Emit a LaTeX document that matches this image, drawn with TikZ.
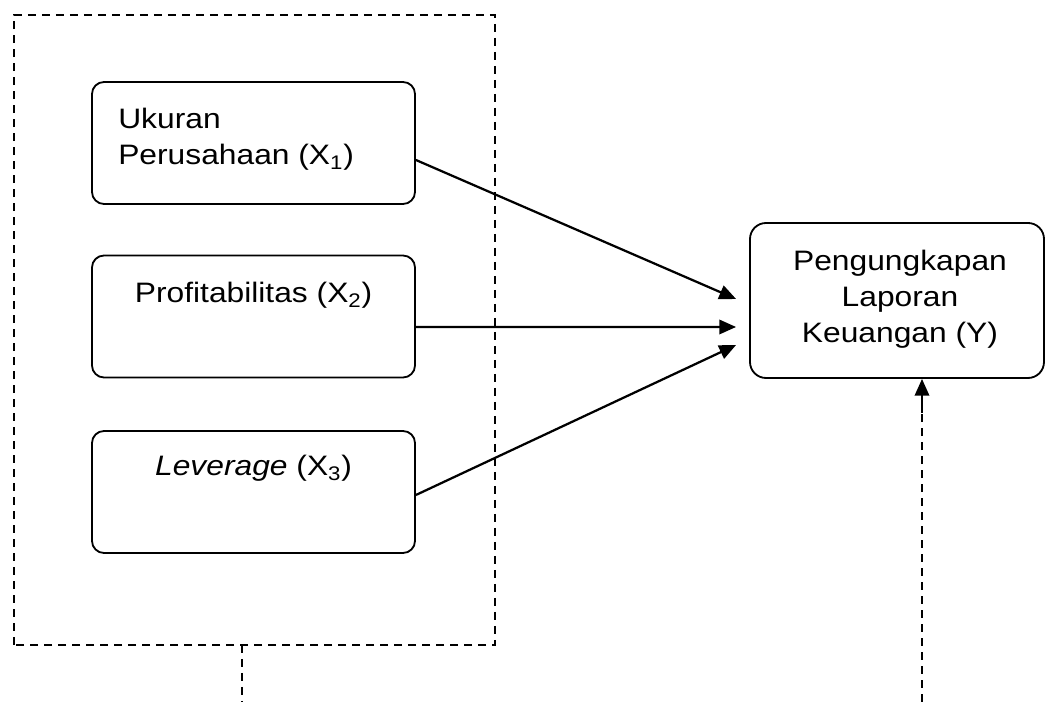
\documentclass[tikz,border=0pt]{standalone}
\usepackage{fontspec}
\setmainfont{Liberation Sans}
\newfontfamily\labelfont[FakeStretch=1.13]{Liberation Sans}
\usetikzlibrary{arrows.meta}

\tikzset{
    varbox/.style={draw, line width=1.3pt, rounded corners=0.3cm, minimum width=8.075cm, minimum height=3.05cm, inner sep=0pt},
    vartext/.style={inner sep=0pt, font=\labelfont\fontsize{20pt}{25.6pt}\selectfont},
    link/.style={line width=1.6pt, -{Triangle[length=0.42cm, width=0.36cm]}},
    groupdash/.style={line width=1.4pt, dash pattern=on 0.2cm off 0.15cm},
}

\begin{document}
\begin{tikzpicture}
    \useasboundingbox (0,0) rectangle (26.225,17.55);

    % Dashed frame round the independent variables
    \draw[groupdash] (0.35,1.425) rectangle (12.375,17.175);
    \coordinate (grpfoot) at (6.05,1.425);
    \coordinate (grpend) at (6.05,0);
    \draw[groupdash] (grpfoot) -- (grpend);

    % Variable boxes
    \node[varbox] (x1) at (6.3375,13.975) {};
    \node[varbox] (x2) at (6.3375,9.6375) {};
    \node[varbox] (x3) at (6.3375,5.25) {};
    \node[varbox, minimum width=7.35cm, minimum height=3.875cm, rounded corners=0.4cm] (y) at (22.425,10.0375) {};

    % Labels
    \node[vartext, anchor=north west, align=left] (x1label) at (2.95,14.85) {Ukuran\\Perusahaan (X\textsubscript{1})};
    \node[vartext, anchor=north] (x2label) at (6.3375,10.5) {Profitabilitas (X\textsubscript{2})};
    \node[vartext, anchor=north] (x3label) at (6.3375,6.175) {\textit{Leverage} (X\textsubscript{3})};
    \node[vartext, anchor=north, align=center] (ylabel) at (22.5,11.3) {Pengungkapan\\Laporan\\Keuangan (Y)};

    % Effects on Y
    \draw[link] ([yshift=-0.425cm]x1.east) -- ([xshift=-0.325cm, yshift=0.0375cm]y.west);
    \draw[link] ([yshift=-0.2625cm]x2.east) -- ([xshift=-0.325cm, yshift=-0.6625cm]y.west);
    \draw[link] ([yshift=-0.075cm]x3.east) -- ([xshift=-0.325cm, yshift=-1.1125cm]y.west);

    % Other factors
    \coordinate (epsfoot) at (23.05,0);
    \coordinate (epsjoin) at (23.05,7.225);
    \draw[groupdash] (epsfoot) -- (epsjoin);
    \draw[link] (epsjoin) -- ([xshift=0.625cm]y.south);
\end{tikzpicture}
\end{document}
